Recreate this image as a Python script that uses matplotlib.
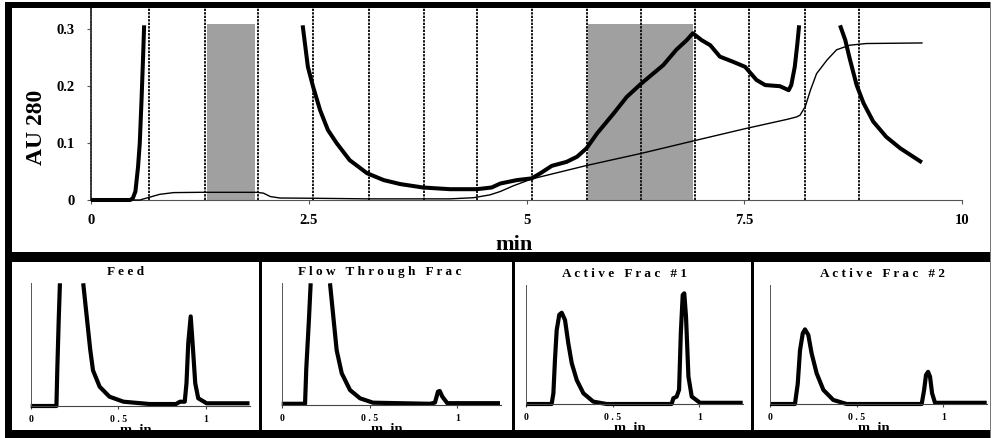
import numpy as np
import matplotlib
matplotlib.use("Agg")
import matplotlib.pyplot as plt
from matplotlib.patches import Rectangle

# ---------------- data ----------------
nan = np.nan
# main chromatogram, thick trace (AU 280), off-scale parts left as gaps
main_thick_x = [0, 0.45, 0.48, 0.51, 0.54, 0.56, 0.58, 0.60, 0.61, nan,
                2.43, 2.49, 2.55, 2.63, 2.72, 2.82, 2.97, 3.17, 3.36, 3.55, 3.81, 4.12, 4.43,
                4.60, 4.70, 4.89, 5.06, 5.16, 5.29, 5.46, 5.58, 5.69, 5.81, 6.00, 6.15, 6.32,
                6.57, 6.72, 6.84, 6.91, 7.01, 7.11, 7.22, 7.37, 7.51, 7.64, 7.74, 7.91, 8.01,
                8.04, 8.08, 8.11, 8.13, nan,
                8.60, 8.66, 8.71, 8.79, 8.87, 8.98, 9.13, 9.29, 9.44, 9.54]
main_thick_y = [0, 0, 0.003, 0.015, 0.058, 0.10, 0.175, 0.26, 0.307, nan,
                0.307, 0.234, 0.199, 0.158, 0.123, 0.100, 0.070, 0.047, 0.035, 0.028, 0.022, 0.019, 0.019,
                0.022, 0.029, 0.035, 0.038, 0.047, 0.060, 0.067, 0.076, 0.091, 0.117, 0.152, 0.181, 0.205,
                0.237, 0.264, 0.281, 0.293, 0.281, 0.272, 0.252, 0.243, 0.234, 0.211, 0.202, 0.200, 0.193,
                0.202, 0.234, 0.275, 0.307, nan,
                0.307, 0.281, 0.249, 0.202, 0.170, 0.138, 0.111, 0.091, 0.076, 0.066]
# thin trace (gradient / conductivity)
main_thin_x = [0, 0.56, 0.79, 0.95, 1.25, 1.63, 1.90, 1.98, 2.06, 2.17, 2.59, 3.17, 4.12,
               4.39, 4.58, 4.70, 4.85, 5.06, 5.70, 6.32, 6.92, 7.50, 8.00, 8.10, 8.14, 8.20,
               8.26, 8.33, 8.45, 8.56, 8.71, 8.90, 9.54]
main_thin_y = [0, 0, 0.010, 0.013, 0.0135, 0.0135, 0.0135, 0.012, 0.006, 0.0035, 0.003, 0.002, 0.002,
               0.004, 0.009, 0.015, 0.025, 0.037, 0.061, 0.082, 0.104, 0.125, 0.142, 0.146, 0.149, 0.164,
               0.193, 0.222, 0.246, 0.264, 0.272, 0.275, 0.276]
fraction_marks = [0.67, 1.31, 1.92, 2.55, 3.19, 3.82, 4.43, 5.06, 5.70, 6.32, 6.93, 7.56, 8.20, 8.82]
shaded_fracs = [(1.33, 1.88), (5.71, 6.91)]
shade_top = 0.31
main_xticks = [0, 2.5, 5, 7.5, 10]
main_xticklabels = ["0", "2.5", "5", "7.5", "10"]
main_yticks = [0, 0.1, 0.2, 0.3]
main_yticklabels = ["0", "0.1", "0.2", "0.3"]

# analytical runs of fractions (relative response, clipped at top)
feed_x = [0, 0.147, 0.152, 0.160, 0.167, nan,
          0.30, 0.32, 0.34, 0.356, 0.394, 0.45, 0.53, 0.68, 0.83, 0.853, 0.88, 0.89, 0.90,
          0.914, 0.925, 0.94, 0.957, 1.005, 1.25]
feed_y = [0, 0, 0.3, 0.7, 1.0, nan,
          1.0, 0.73, 0.46, 0.29, 0.157, 0.076, 0.035, 0.016, 0.016, 0.035, 0.035, 0.185, 0.51,
          0.73, 0.51, 0.185, 0.063, 0.022, 0.022]
flow_x = [0, 0.133, 0.14, 0.155, 0.165, nan,
          0.275, 0.294, 0.313, 0.342, 0.389, 0.446, 0.52, 0.845, 0.873, 0.89, 0.90, 0.915, 0.943, 1.243]
flow_y = [0.01, 0.01, 0.3, 0.7, 1.0, nan,
          1.0, 0.725, 0.45, 0.26, 0.123, 0.055, 0.019, 0.01, 0.02, 0.11, 0.115, 0.068, 0.015, 0.015]
act1_x = [0, 0.148, 0.158, 0.167, 0.177, 0.192, 0.206, 0.225, 0.244, 0.264, 0.293, 0.331, 0.388,
          0.465, 0.84, 0.85, 0.869, 0.883, 0.893, 0.904, 0.913, 0.923, 0.937, 0.956, 1.004, 1.25]
act1_y = [0, 0, 0.09, 0.37, 0.62, 0.75, 0.767, 0.706, 0.51, 0.342, 0.20, 0.09, 0.02,
          0, 0, 0.048, 0.062, 0.12, 0.594, 0.916, 0.93, 0.734, 0.23, 0.062, 0.01, 0.01]
act2_x = [0, 0.144, 0.16, 0.173, 0.189, 0.202, 0.221, 0.24, 0.269, 0.308, 0.365, 0.442,
          0.875, 0.889, 0.90, 0.912, 0.923, 0.935, 0.952, 1.25]
act2_y = [0, 0, 0.17, 0.45, 0.594, 0.627, 0.58, 0.426, 0.258, 0.118, 0.034, 0,
          0, 0.118, 0.244, 0.27, 0.23, 0.09, 0.01, 0.01]
panel_titles = ["F e e d", "F l o w   T h r o u g h   F r a c",
                "A c t i v e   F r a c   # 1", "A c t i v e   F r a c   # 2"]
panel_xticks = [0, 0.5, 1]
panel_xticklabels = ["0", "0 . 5", "1"]

# ---------------- figure ----------------
W, H, DPI = 992, 438, 100
fig = plt.figure(figsize=(W / DPI, H / DPI), dpi=DPI)
fig.patch.set_facecolor("white")
SERIF = ["Liberation Serif", "DejaVu Serif"]


def rect(x0, x1, ytop, ybot):
    return [x0 / W, 1 - ybot / H, (x1 - x0) / W, (ybot - ytop) / H]


# ---- main panel ----
ax = fig.add_axes(rect(91, 962, 8, 200))
ytop = 192 / 569.0
ax.set_xlim(0, 10)
ax.set_ylim(0, ytop)
for (a, b) in shaded_fracs:
    ax.fill_between([a, b], 0, shade_top, color="#a0a0a0", lw=0, zorder=1)
ax.vlines(fraction_marks, 0, ytop, colors="#151515", linewidth=1.4,
          linestyles=(0, (1.2, 0.6)), zorder=2)
ax.plot(main_thin_x, main_thin_y, color="black", lw=1.0, zorder=3, clip_on=False)
ax.plot(main_thick_x, main_thick_y, color="black", lw=2.9, zorder=4, clip_on=False,
        solid_capstyle="butt", solid_joinstyle="round")
for s in ["top", "right"]:
    ax.spines[s].set_visible(False)
ax.spines["left"].set_linestyle((0, (1.2, 0.6)))
ax.spines["left"].set_linewidth(1.3)
ax.spines["left"].set_color("#333333")
ax.spines["bottom"].set_linewidth(0.8)
ax.spines["bottom"].set_color("#555555")
ax.set_xticks(main_xticks)
ax.set_xticklabels(main_xticklabels)
ax.set_yticks(main_yticks)
ax.set_yticklabels(main_yticklabels)
ax.tick_params(axis="x", direction="out", length=3, width=0.8, pad=7, color="#555555")
ax.tick_params(axis="y", direction="out", length=3, width=0.8, pad=9, color="#555555")
for lab in ax.get_xticklabels() + ax.get_yticklabels():
    lab.set_fontfamily(SERIF)
    lab.set_fontweight("bold")
    lab.set_fontsize(10.5)
fig.text(36 / W, 1 - 127 / H, "AU 280", rotation=90, ha="center", va="center",
         fontsize=17, fontweight="bold", family=SERIF)
fig.text(514 / W, 1 - 250 / H, "min", ha="center", va="baseline",
         fontsize=16, fontweight="bold", family=SERIF)

# ---- bottom panels ----
panel_rects = [rect(30.7, 249.5, 283.3, 406), rect(281.7, 501.2, 283.3, 405),
               rect(526, 742.7, 285, 404), rect(770, 986.7, 285, 404)]
panel_data = [(feed_x, feed_y), (flow_x, flow_y), (act1_x, act1_y), (act2_x, act2_y)]
title_x = [0.54, 0.56, 0.57, 0.65]
for r, (px, py), title, tx in zip(panel_rects, panel_data, panel_titles, title_x):
    a = fig.add_axes(r)
    a.set_xlim(0, 1.25)
    a.set_ylim(0, 1.0)
    a.plot(px, py, color="black", lw=3.0, clip_on=False, solid_joinstyle="round",
           solid_capstyle="butt")
    for s in ["top", "right"]:
        a.spines[s].set_visible(False)
    a.spines["left"].set_linewidth(0.7)
    a.spines["left"].set_color("#555555")
    a.spines["bottom"].set_linewidth(0.8)
    a.spines["bottom"].set_color("#444444")
    a.set_yticks([])
    a.set_xticks(panel_xticks)
    a.set_xticklabels(panel_xticklabels)
    a.tick_params(axis="x", direction="out", length=2.5, width=0.8, pad=4, color="#444444")
    for lab in a.get_xticklabels():
        lab.set_fontfamily(SERIF)
        lab.set_fontweight("bold")
        lab.set_fontsize(7)
    a.text(tx, 1.0 + 11 / 122.0, title, ha="center", va="center", fontsize=9.5,
           fontweight="bold", family=SERIF, transform=a.get_xaxis_transform())
    a.text(0.6, -28 / 121.0, "m  in", ha="center", va="baseline", fontsize=10.5,
           fontweight="bold", family=SERIF, transform=a.get_xaxis_transform())

# ---- frame bands ----
def band(x0, x1, y0, y1, color="black"):
    fig.patches.append(Rectangle((x0 / W, 1 - y1 / H), (x1 - x0) / W, (y1 - y0) / H,
                                 transform=fig.transFigure, color=color, lw=0, zorder=5))

band(5, 991, 2, 8)       # top
band(5, 12, 2, 438)      # left
band(5, 991, 252, 262)   # middle
band(5, 991, 430, 438)   # bottom
band(989.5, 991, 2, 438, color="#777777")  # right thin edge
band(259, 261.5, 262, 430)
band(512, 514.5, 262, 430)
band(751, 753.5, 262, 430)

fig.savefig("out.png", dpi=DPI, facecolor="white")
